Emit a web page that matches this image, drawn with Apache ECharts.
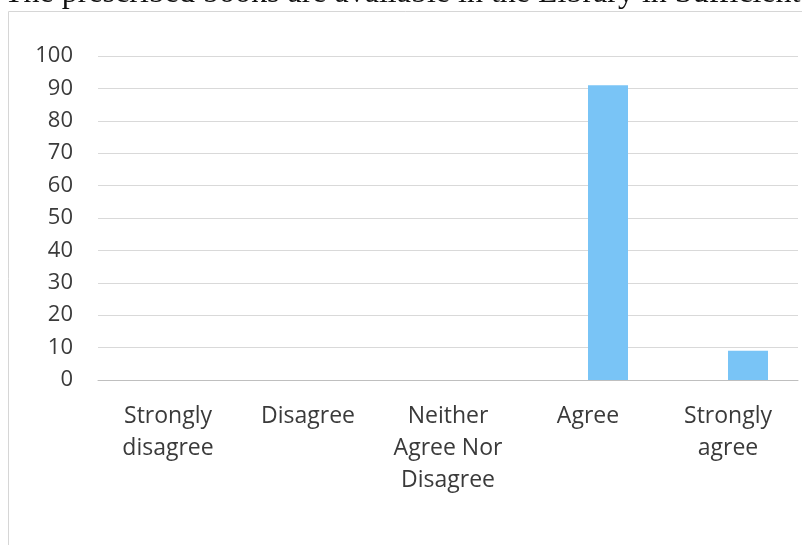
<!DOCTYPE html>
<html><head><meta charset="utf-8">
<script src="https://cdn.jsdelivr.net/npm/echarts@6/dist/echarts.min.js"></script>
<style>html,body{margin:0;padding:0;background:#fff}#c{width:802px;height:545px}</style>
</head><body><div id="c"></div>
<script>
const titleText = 'The prescribed books are available in the Library in Sufficient';
const categories = ['Strongly\ndisagree', 'Disagree', 'Neither\nAgree Nor\nDisagree', 'Agree', 'Strongly\nagree'];
const seriesA = [0, 0, 0, 0, 0];
const seriesB = [0, 0, 0, 91, 9];
const yTicks = [0, 10, 20, 30, 40, 50, 60, 70, 80, 90, 100];

const chart = echarts.init(document.getElementById('c'), null, {renderer: 'canvas'});
chart.setOption({
  animation: false,
  backgroundColor: '#fff',
  graphic: [
    {type: 'rect', shape: {x: 8.5, y: 11.5, width: 900, height: 700}, style: {fill: 'none', stroke: '#d6d6d6', lineWidth: 1}},
    {type: 'text', x: 4, y: -6, style: {text: titleText, font: '32px "Liberation Serif"', fill: '#111', verticalAlign: 'middle'}}
  ],
  grid: {left: 98, right: 4, top: 56, bottom: 165, containLabel: false},
  xAxis: {
    type: 'category', data: categories,
    axisLine: {lineStyle: {color: '#bfbfbf', width: 1}},
    axisTick: {show: false},
    axisLabel: {interval: 0, color: '#3a3a3a', fontFamily: 'Open Sans', fontSize: 23, lineHeight: 32, margin: 20, verticalAlign: 'top'}
  },
  yAxis: {
    type: 'value', min: yTicks[0], max: yTicks[yTicks.length - 1], interval: 10,
    axisLine: {show: false}, axisTick: {show: false},
    splitLine: {lineStyle: {color: '#d9d9d9', width: 1}},
    axisLabel: {color: '#3a3a3a', fontFamily: 'Open Sans', fontSize: 22, margin: 25}
  },
  series: [
    {type: 'bar', data: seriesA, barWidth: 40, barGap: '0%', itemStyle: {color: '#5b9bd5'}},
    {type: 'bar', data: seriesB, barWidth: 40, barGap: '0%', itemStyle: {color: '#79c4f6'}}
  ]
});
</script></body></html>
